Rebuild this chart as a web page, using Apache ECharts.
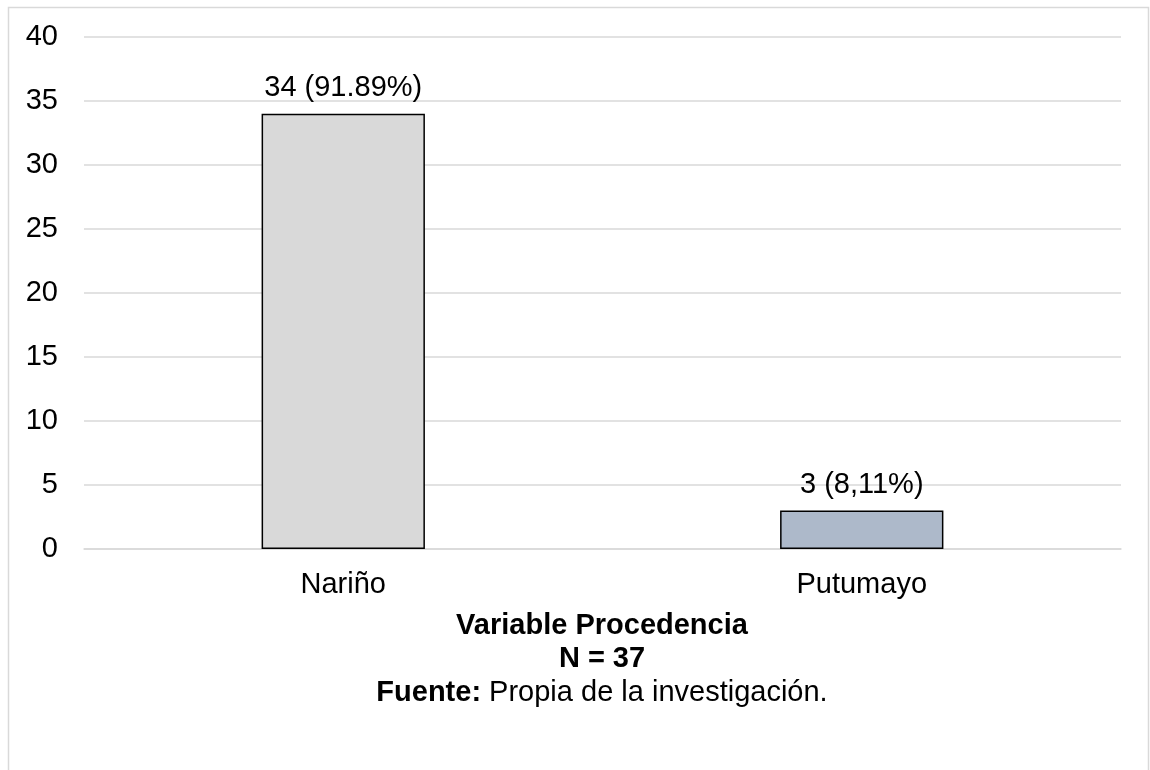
<!DOCTYPE html>
<html>
<head>
<meta charset="utf-8">
<script src="https://cdn.jsdelivr.net/npm/echarts@6/dist/echarts.min.js"></script>
<style>
  html, body { margin: 0; padding: 0; background: #fff; }
  #chart { width: 1150px; height: 770px; }
</style>
</head>
<body>
<div id="chart"></div>
<script>
// Procedencia de los participantes
const categories = ['Nariño', 'Putumayo'];
const counts = [34, 3];
const percentText = ['91.89%', '8,11%'];
const barColors = ['#d9d9d9', '#adb9ca'];
const yTicks = { min: 0, max: 40, interval: 5 };

const FONT = '"Liberation Sans", Arial, sans-serif';
const FS = 29;

const chart = echarts.init(document.getElementById('chart'));

chart.setOption({
  animation: false,
  backgroundColor: '#fff',
  grid: { left: 84, right: 29, top: 37, bottom: 221, containLabel: false },
  xAxis: {
    type: 'category',
    data: categories,
    axisLine: { show: true, lineStyle: { color: '#d9d9d9', width: 1.5 } },
    axisTick: { show: false },
    axisLabel: { color: '#000', fontFamily: FONT, fontSize: FS, margin: 21 }
  },
  yAxis: {
    type: 'value',
    min: yTicks.min,
    max: yTicks.max,
    interval: yTicks.interval,
    axisLine: { show: false },
    axisTick: { show: false },
    axisLabel: { color: '#000', fontFamily: FONT, fontSize: FS, margin: 26 },
    splitLine: { lineStyle: { color: '#d9d9d9', width: 1.5 } }
  },
  series: [{
    type: 'bar',
    barWidth: '31.5%',
    data: counts.map((v, i) => ({
      value: v,
      itemStyle: { color: barColors[i], borderColor: '#000', borderWidth: 1.5 }
    })),
    label: {
      show: true,
      position: 'top',
      distance: 11,
      color: '#000',
      fontFamily: FONT,
      fontSize: FS,
      formatter: p => p.value + ' (' + percentText[p.dataIndex] + ')'
    }
  }],
  graphic: [
    {
      type: 'rect',
      shape: { x: 8.5, y: 7.5, width: 1140, height: 800 },
      style: { fill: null, stroke: '#d9d9d9', lineWidth: 1.5 },
      silent: true
    },
    {
      type: 'text',
      x: 602, y: 626,
      style: {
        text: 'Variable Procedencia',
        fontFamily: FONT, fontSize: FS, fontWeight: 'bold',
        fill: '#000', align: 'center', verticalAlign: 'middle'
      }
    },
    {
      type: 'text',
      x: 602, y: 659,
      style: {
        text: 'N = 37',
        fontFamily: FONT, fontSize: FS, fontWeight: 'bold',
        fill: '#000', align: 'center', verticalAlign: 'middle'
      }
    },
    {
      type: 'text',
      x: 602, y: 693,
      style: {
        text: '{b|Fuente:} Propia de la investigación.',
        fontFamily: FONT, fontSize: FS,
        fill: '#000', align: 'center', verticalAlign: 'middle',
        rich: {
          b: { fontFamily: FONT, fontSize: FS, fontWeight: 'bold', fill: '#000' }
        }
      }
    }
  ]
});
</script>
</body>
</html>
